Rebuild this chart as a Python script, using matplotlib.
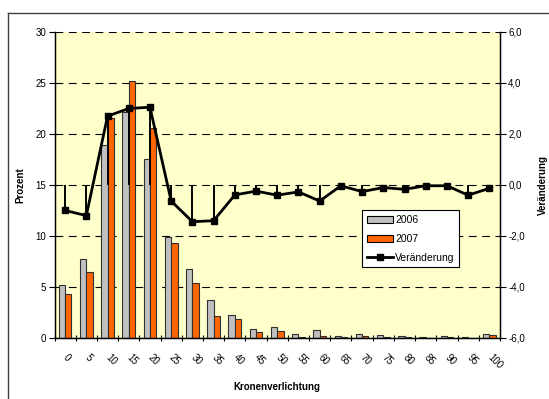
import matplotlib
matplotlib.use("Agg")
import matplotlib.pyplot as plt
from matplotlib.patches import Patch
from matplotlib.lines import Line2D
from matplotlib.ticker import FuncFormatter, FixedLocator
import numpy as np

# ---- DATA ----
klassen = [0, 5, 10, 15, 20, 25, 30, 35, 40, 45, 50,
           55, 60, 65, 70, 75, 80, 85, 90, 95, 100]
anteil_2006 = [5.2, 7.7, 18.9, 22.2, 17.5, 9.9, 6.8, 3.7, 2.3, 0.9, 1.1,
               0.35, 0.8, 0.2, 0.42, 0.25, 0.15, 0.05, 0.15, 0.05, 0.42]
anteil_2007 = [4.3, 6.5, 21.6, 25.2, 20.6, 9.3, 5.4, 2.2, 1.9, 0.6, 0.7,
               0.1, 0.2, 0.1, 0.15, 0.05, 0.05, 0.0, 0.05, 0.0, 0.25]
veraenderung = [-1.0, -1.2, 2.7, 3.0, 3.05, -0.63, -1.44, -1.4, -0.39, -0.24, -0.4,
                -0.27, -0.63, -0.03, -0.26, -0.1, -0.17, -0.03, -0.03, -0.4, -0.13]
# --------------

GRAU   = "#C0C0C0"
ORANGE = "#FF6600"
HINTERGRUND = "#FFFFCC"

plt.rcParams["font.family"] = ["Liberation Sans", "DejaVu Sans"]
plt.rcParams["font.size"] = 7

fig = plt.figure(figsize=(5.49, 3.99), dpi=100)
ax = fig.add_axes([0.0993, 0.1529, 0.8114, 0.7669])
ax.set_facecolor(HINTERGRUND)

x = np.arange(len(klassen))
w = 0.30
ax.bar(x - w / 2, anteil_2006, width=w, color=GRAU, edgecolor="#303030", linewidth=0.8, zorder=2)
ax.bar(x + w / 2, anteil_2007, width=w, color=ORANGE, edgecolor="#303030", linewidth=0.8, zorder=2)

ax.set_xlim(-0.5, len(klassen) - 0.5)
ax.set_ylim(0, 30)
ax.set_yticks(range(0, 31, 5))
ax.yaxis.grid(True, linestyle=(0, (7, 5)), color="black", linewidth=0.8, zorder=1)
ax.set_axisbelow(True)

# category boundaries get the tick marks, labels sit in the middle
ax.xaxis.set_major_locator(FixedLocator(np.arange(-0.5, len(klassen), 1.0)))
ax.xaxis.set_major_formatter(FuncFormatter(lambda v, p: ""))
ax.xaxis.set_minor_locator(FixedLocator(x))
ax.set_xticklabels([str(k) for k in klassen], minor=True, rotation=-45,
                   ha="left", va="center", rotation_mode="anchor")
ax.tick_params(axis="x", which="major", direction="inout", length=5, width=0.8)
ax.tick_params(axis="x", which="minor", length=0, pad=13)
ax.tick_params(axis="y", direction="out", length=4, width=0.8, pad=2)

for side in ["left", "bottom", "right"]:
    ax.spines[side].set_linewidth(1.0)
ax.spines["top"].set_visible(False)

ax.set_ylabel("Prozent", fontweight="bold", labelpad=7)
ax.set_xlabel("Kronenverlichtung", fontweight="bold", labelpad=8)

# change between years on the right-hand axis
ax2 = ax.twinx()
ax2.set_ylim(-6, 6)
ax2.set_yticks(np.arange(-6, 6.1, 2))
ax2.yaxis.set_major_formatter(FuncFormatter(lambda v, p: f"{v:.1f}".replace(".", ",")))
ax2.tick_params(axis="y", direction="out", length=4, width=0.8, pad=2)
ax2.spines["top"].set_visible(False)
ax2.vlines(x, 0, veraenderung, color="black", linewidth=1.4, zorder=3)
ax2.plot(x, veraenderung, color="black", linewidth=2.0, marker="s", markersize=4, zorder=4)
ax2.set_ylabel("Veränderung", fontweight="bold", rotation=90, labelpad=9)

handles = [
    Patch(facecolor=GRAU, edgecolor="black", linewidth=0.8),
    Patch(facecolor=ORANGE, edgecolor="black", linewidth=0.8),
    Line2D([0], [0], color="black", linewidth=2.0, marker="s", markersize=4),
]
leg = ax2.legend(handles, ["2006", "2007", "Veränderung"], loc="upper left",
                 bbox_to_anchor=(0.69, 0.417), frameon=True, fancybox=False,
                 handlelength=2.5, labelspacing=0.85, handletextpad=0.25,
                 borderpad=0.45, borderaxespad=0.0, fontsize=7.5)
leg.get_frame().set_edgecolor("black")
leg.get_frame().set_linewidth(0.8)
leg.get_frame().set_facecolor("white")
leg.get_frame().set_alpha(1)

# outer chart border
fy = (399 - 13) / 399
fx = 8 / 549
fig.add_artist(Line2D([fx, fx], [0, fy], transform=fig.transFigure, color="#404040", linewidth=1.0))
fig.add_artist(Line2D([fx, 1], [fy, fy], transform=fig.transFigure, color="#404040", linewidth=1.0))

fig.savefig("out.png", dpi=100)
